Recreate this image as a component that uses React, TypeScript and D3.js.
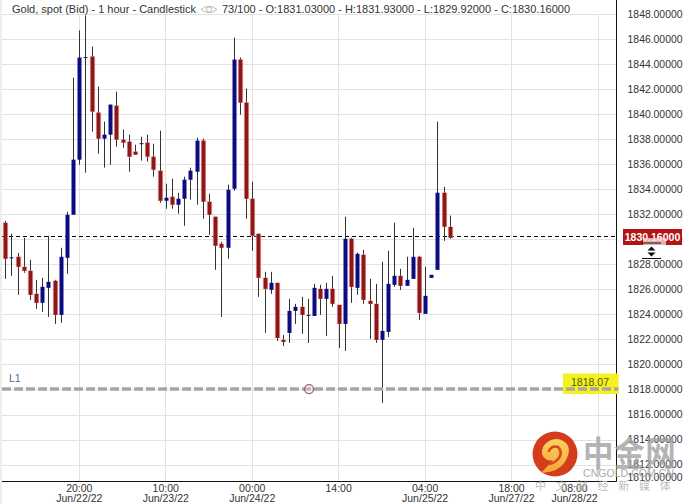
import React from "react";
import * as d3 from "d3";

const opens = [1831.36,1828.52,1828.64,1827.84,1827.52,1825.68,1824.96,1826.16,1826.72,1824.00,1828.56,1832.00,1836.40,1844.60,1844.64,1840.16,1838.08,1838.40,1840.72,1838.00,1837.84,1837.04,1837.72,1837.76,1836.64,1835.52,1833.12,1833.44,1832.80,1833.28,1834.80,1835.44,1837.92,1833.04,1831.84,1829.68,1829.36,1834.08,1844.40,1840.96,1833.28,1830.48,1826.96,1826.00,1826.56,1822.00,1822.56,1824.32,1824.64,1824.00,1823.92,1826.08,1825.28,1826.08,1824.80,1823.28,1830.08,1826.16,1828.80,1825.12,1824.88,1822.00,1822.64,1826.40,1827.12,1826.32,1826.88,1828.64,1824.08,1826.96,1827.60,1833.76,1831.03];
const closes = [1828.48,1828.60,1827.84,1827.52,1825.60,1824.96,1826.24,1826.64,1824.00,1828.64,1832.00,1836.40,1844.56,1844.60,1840.24,1838.08,1838.40,1840.80,1838.00,1837.76,1836.64,1836.80,1837.72,1836.64,1835.60,1833.12,1833.36,1832.80,1833.28,1834.80,1835.52,1837.92,1833.04,1832.00,1829.52,1829.36,1834.00,1844.40,1840.96,1833.28,1830.32,1826.96,1826.08,1826.56,1822.16,1821.84,1824.32,1824.64,1824.00,1824.00,1826.16,1825.28,1826.08,1824.88,1823.28,1830.08,1826.24,1828.88,1825.20,1824.88,1822.00,1822.72,1826.48,1827.12,1826.32,1826.80,1828.64,1824.16,1825.52,1827.20,1833.76,1831.04,1830.16];
const highs = [1831.52,1830.48,1828.96,1830.16,1828.40,1826.80,1826.96,1830.32,1826.80,1829.36,1832.24,1842.96,1846.72,1847.92,1845.44,1842.24,1839.44,1840.80,1841.84,1838.80,1838.40,1837.60,1838.24,1838.40,1837.68,1838.72,1834.48,1834.88,1833.76,1835.04,1835.76,1838.16,1838.08,1833.68,1831.84,1829.84,1834.40,1846.16,1844.56,1842.08,1834.64,1830.48,1827.44,1827.44,1826.56,1822.40,1825.28,1824.88,1825.44,1825.28,1826.48,1826.40,1826.56,1827.12,1824.80,1831.84,1830.16,1828.96,1829.20,1826.88,1826.48,1828.24,1829.12,1831.36,1827.68,1828.64,1830.96,1828.72,1827.84,1827.20,1839.44,1834.24,1831.93];
const lows = [1826.88,1827.12,1825.60,1827.36,1825.20,1824.48,1824.24,1823.84,1823.28,1823.36,1827.28,1832.00,1836.00,1835.36,1838.64,1836.88,1835.76,1836.00,1837.44,1837.36,1835.44,1836.80,1836.32,1836.24,1835.04,1832.96,1832.48,1832.48,1832.08,1831.12,1833.20,1832.80,1831.68,1830.40,1827.60,1823.84,1828.48,1833.92,1840.00,1831.68,1829.12,1825.44,1822.56,1825.68,1821.92,1821.52,1821.76,1823.28,1822.48,1821.76,1823.92,1824.00,1822.32,1824.64,1821.36,1821.12,1824.96,1825.60,1824.88,1822.08,1821.76,1816.96,1822.24,1826.24,1826.00,1826.32,1826.88,1823.60,1824.08,1826.96,1827.60,1829.92,1830.08];

const priceTicks = [1850,1848,1846,1844,1842,1840,1838,1836,1834,1832,1830,1828,1826,1824,1822,1820,1818,1816,1814,1812,1810];
const timeTicks = [
  { index: 12, time: "20:00", date: "Jun/22/22" },
  { index: 26, time: "10:00", date: "Jun/23/22" },
  { index: 40, time: "00:00", date: "Jun/24/22" },
  { index: 54, time: "14:00", date: "" },
  { index: 68, time: "04:00", date: "Jun/25/22" },
  { index: 82, time: "18:00", date: "Jun/27/22" },
  { index: 96, time: "08:00", date: "Jun/28/22" },
];
const lastPrice = 1830.16;
const levelPrice = 1818.07;
const titleLeft = "Gold, spot (Bid) - 1 hour - Candlestick";
const titleRight = "73/100 - O:1831.03000 - H:1831.93000 - L:1829.92000 - C:1830.16000";

const UP = "#0b0b82";
const DOWN = "#8f1616";
const FONT = "Liberation Sans, Arial, sans-serif";

export default function App() {
  const x = d3.scaleLinear().domain([0, 96]).range([5.2, 598]);
  const y = d3.scaleLinear().domain([1848, 1816]).range([14.5, 415]);
  const snap = (v: number) => Math.floor(v) + 0.5;
  const plotL = 2, plotR = 616.5, plotB = 481.5;
  const lastIdx = timeTicks[timeTicks.length - 1].index;
  return (
    <svg width={689} height={504} style={{ position: "fixed", left: 0, top: 0, background: "#fff" }} fontFamily={FONT}>
      <defs>
        <linearGradient id="swirl" x1="0" y1="0" x2="0" y2="1">
          <stop offset="0" stopColor="#fbd25e" />
          <stop offset="1" stopColor="#f4a637" />
        </linearGradient>
      </defs>
      <rect x={0} y={0} width={2} height={504} fill="#eeeeee" />
      {priceTicks.filter(p => y(p) < plotB && y(p) > 5).map(p => (
        <line key={p} x1={plotL} x2={plotR} y1={snap(y(p))} y2={snap(y(p))} stroke="#e2e2e2" strokeWidth={1} />
      ))}
      {timeTicks.map(t => (
        <line key={t.index} x1={snap(x(t.index))} x2={snap(x(t.index))} y1={14} y2={plotB} stroke="#e2e2e2" strokeWidth={1} />
      ))}
      <line x1={plotL} x2={plotR} y1={plotB} y2={plotB} stroke="#111" strokeWidth={1} />
      <line x1={plotR} x2={plotR} y1={0} y2={plotB} stroke="#111" strokeWidth={1} />

      <line x1={plotL} x2={plotR} y1={snap(y(lastPrice)) - 1} y2={snap(y(lastPrice)) - 1} stroke="#000" strokeWidth={1} strokeDasharray="4 3" />

      {opens.map((o, i) => {
        const c = closes[i];
        const up = c >= o;
        const cx = Math.round(x(i)) + 0.5;
        const top = y(Math.max(o, c));
        const h = Math.max(Math.abs(y(o) - y(c)), 1);
        return (
          <g key={i}>
            <line x1={cx} x2={cx} y1={y(highs[i])} y2={y(lows[i])} stroke="#333" strokeWidth={1} />
            {!up && h > 2 && <rect x={cx - 3} y={top - 0.5} width={6} height={h + 1} fill="#f7c8c8" opacity={0.5} />}
            <rect x={cx - 2} y={top} width={4} height={h} fill={o === c ? "#222" : up ? UP : DOWN} />
          </g>
        );
      })}

      <rect x={563} y={373.5} width={55.5} height={20.5} fill="#f4f21e" />
      <line x1={plotL} x2={plotR + 2} y1={y(levelPrice)} y2={y(levelPrice)} stroke="#a6a6a6" strokeWidth={3.5} strokeDasharray="9 3" />
      <circle cx={309} cy={y(levelPrice)} r={4.5} fill="#e6dcdc" fillOpacity={0.35} stroke="#a85a6a" strokeWidth={1.2} />
      <text x={9} y={382} fontSize={10.5} fill="#4d6c96">L1</text>
      <text x={590} y={386} fontSize={10.5} fill="#55551a" textAnchor="middle">{levelPrice.toFixed(2)}</text>

      <text x={12} y={13} fontSize={11} fill="#333">{titleLeft}</text>
      <g fill="none" stroke="#aaa" strokeWidth={0.8}>
        <path d="M201 9.5 Q209 3 217 9.5 Q209 16 201 9.5 Z" />
        <circle cx={209} cy={9.5} r={2.6} />
      </g>
      <text x={222} y={13} fontSize={11} fill="#333">{titleRight}</text>

      {priceTicks.map(p => (
        <text key={p} x={682.5} y={Math.min(Math.max(y(p), -3), 478) + 3} fontSize={10.4} fill="#333" textAnchor="end">{p.toFixed(5)}</text>
      ))}
      <rect x={617} y={482} width={72} height={22} fill="#fff" />

      {timeTicks.map(t => {
        const cx = t.index === lastIdx ? x(t.index) - 23.5 : x(t.index);
        return (
          <text key={t.index} fontSize={10.5} fill="#333" textAnchor="middle">
            <tspan x={cx} y={492}>{t.time}</tspan>
            {t.date && <tspan x={cx} y={502}>{t.date}</tspan>}
          </text>
        );
      })}

      <rect x={623} y={229} width={59} height={16} fill="#b51414" />
      <text x={652.5} y={241} fontSize={10.5} fontWeight="bold" fill="#fff" textAnchor="middle">{lastPrice.toFixed(5)}</text>
      <rect x={643} y={238} width={23} height={7} fill="#f6d4d4" opacity={0.8} />
      <line x1={642} x2={661} y1={243} y2={243} stroke="#111" strokeWidth={1} />
      <line x1={642} x2={661} y1={258.5} y2={258.5} stroke="#111" strokeWidth={1} />
      <path d="M651.5 246.5 L655.5 250.5 L647.5 250.5 Z M651.5 256.5 L655.5 252.5 L647.5 252.5 Z" fill="#111" />

      <text transform="translate(583,466) scale(1,1.12)" fontSize={30.5} fontWeight="bold" fill="#a0a0a0" fillOpacity={0.8} letterSpacing={0.6} fontFamily="Noto Sans CJK SC">中金网</text>
      <text x={583} y={477} fontSize={10.5} fill="#aaa" textLength={91}>CNGOLD.COM.CN</text>
      <text x={535} y={490} fontSize={11} fill="#bdbdbd" letterSpacing={9.8} fontFamily="Noto Sans CJK SC">中文财经新媒体</text>

      <circle cx={555} cy={454} r={22.5} fill="#d43d1c" />
      <path d="M541 473 Q560 472 566 460 Q572 449 566 443 Q558 436 549 441 Q541 446 542 454 Q545 462 553 460 Q546 468 541 473 Z" fill="url(#swirl)" />
      <path d="M549 451 Q552 445 558 447 Q563 452 559 458 Q555 463 549 464" fill="none" stroke="#d8481f" strokeWidth={2.6} strokeLinecap="round" />
    </svg>
  );
}
